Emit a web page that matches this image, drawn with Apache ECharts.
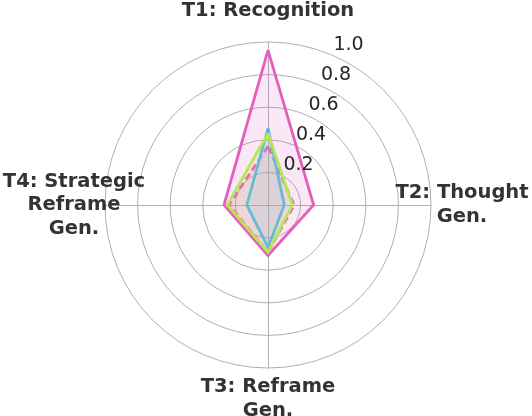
<!DOCTYPE html>
<html>
<head>
<meta charset="utf-8">
<script src="https://cdn.jsdelivr.net/npm/echarts@6/dist/echarts.min.js"></script>
<style>
  html, body { margin: 0; padding: 0; background: #fff; }
  #chart { width: 532px; height: 416px; }
</style>
</head>
<body>
<div id="chart"></div>
<script>
// Task axes, in clockwise order starting at the top
const categories = ['T1: Recognition', 'T2: Thought\nGen.', 'T3: Reframe\nGen.', 'T4: Strategic\nReframe\nGen.'];
const radialTicks = [0, 0.2, 0.4, 0.6, 0.8, 1.0];

// Scores per task (T1..T4)
const pinkSolid = [0.95, 0.28, 0.31, 0.27];
const pinkDashed = [0.36, 0.16, 0.29, 0.24];
const blueLine = [0.47, 0.10, 0.26, 0.13];
const greenLine = [0.44, 0.15, 0.29, 0.25];

// ECharts radar runs counter-clockwise, so visit T1, T4, T3, T2
const order = [0, 3, 2, 1];
const reorder = arr => order.map(i => arr[i]);

const CENTER = [268, 205];
const RADIUS = 163;
const GRID = '#b0b0b0';

const chart = echarts.init(document.getElementById('chart'), null, { renderer: 'canvas' });

function serie(values, color, type) {
  return {
    type: 'radar',
    symbol: 'none',
    data: [{
      value: reorder(values),
      lineStyle: { color: color, width: 2.8, type: type || 'solid', join: 'miter' },
      areaStyle: { color: color, opacity: 0.14 }
    }],
    z: 2
  };
}

chart.setOption({
  backgroundColor: '#ffffff',
  animation: false,
  radar: {
    center: CENTER,
    radius: RADIUS,
    startAngle: 90,
    shape: 'circle',
    splitNumber: radialTicks.length - 1,
    indicator: order.map(i => ({ name: categories[i], min: radialTicks[0], max: radialTicks[radialTicks.length - 1] })),
    nameGap: 31,
    axisName: {
      color: '#333333',
      fontFamily: 'DejaVu Sans',
      fontWeight: 'bold',
      fontSize: 19.5,
      lineHeight: 23.5,
      align: 'center',
      verticalAlign: 'middle'
    },
    axisLine: { lineStyle: { color: GRID, width: 1 } },
    splitLine: { lineStyle: { color: GRID, width: 1 } },
    splitArea: { show: false },
    axisTick: { show: false },
    axisLabel: { show: false }
  },
  // second polar system only used to place the radial tick labels at 22.5 deg
  polar: { center: CENTER, radius: RADIUS },
  angleAxis: {
    type: 'value',
    min: 0,
    max: 360,
    startAngle: 67.5,
    axisLine: { show: false },
    axisTick: { show: false },
    axisLabel: { show: false },
    splitLine: { show: false }
  },
  radiusAxis: {
    type: 'value',
    min: radialTicks[0],
    max: radialTicks[radialTicks.length - 1],
    interval: 0.2,
    z: 10,
    axisLine: { show: false },
    axisTick: { show: false },
    splitLine: { show: false },
    axisLabel: {
      margin: 0,
      color: '#262626',
      fontFamily: 'DejaVu Sans',
      fontSize: 19,
      align: 'left',
      verticalAlign: 'bottom',
      padding: [0, 0, 0, 3],
      formatter: v => (v === 0 ? '' : v.toFixed(1))
    }
  },
  series: [
    serie(pinkSolid, '#e65fbd'),
    serie(pinkDashed, '#e65fbd', [7, 4]),
    serie(blueLine, '#5ab5e8'),
    serie(greenLine, '#b8e655')
  ]
});
</script>
</body>
</html>
